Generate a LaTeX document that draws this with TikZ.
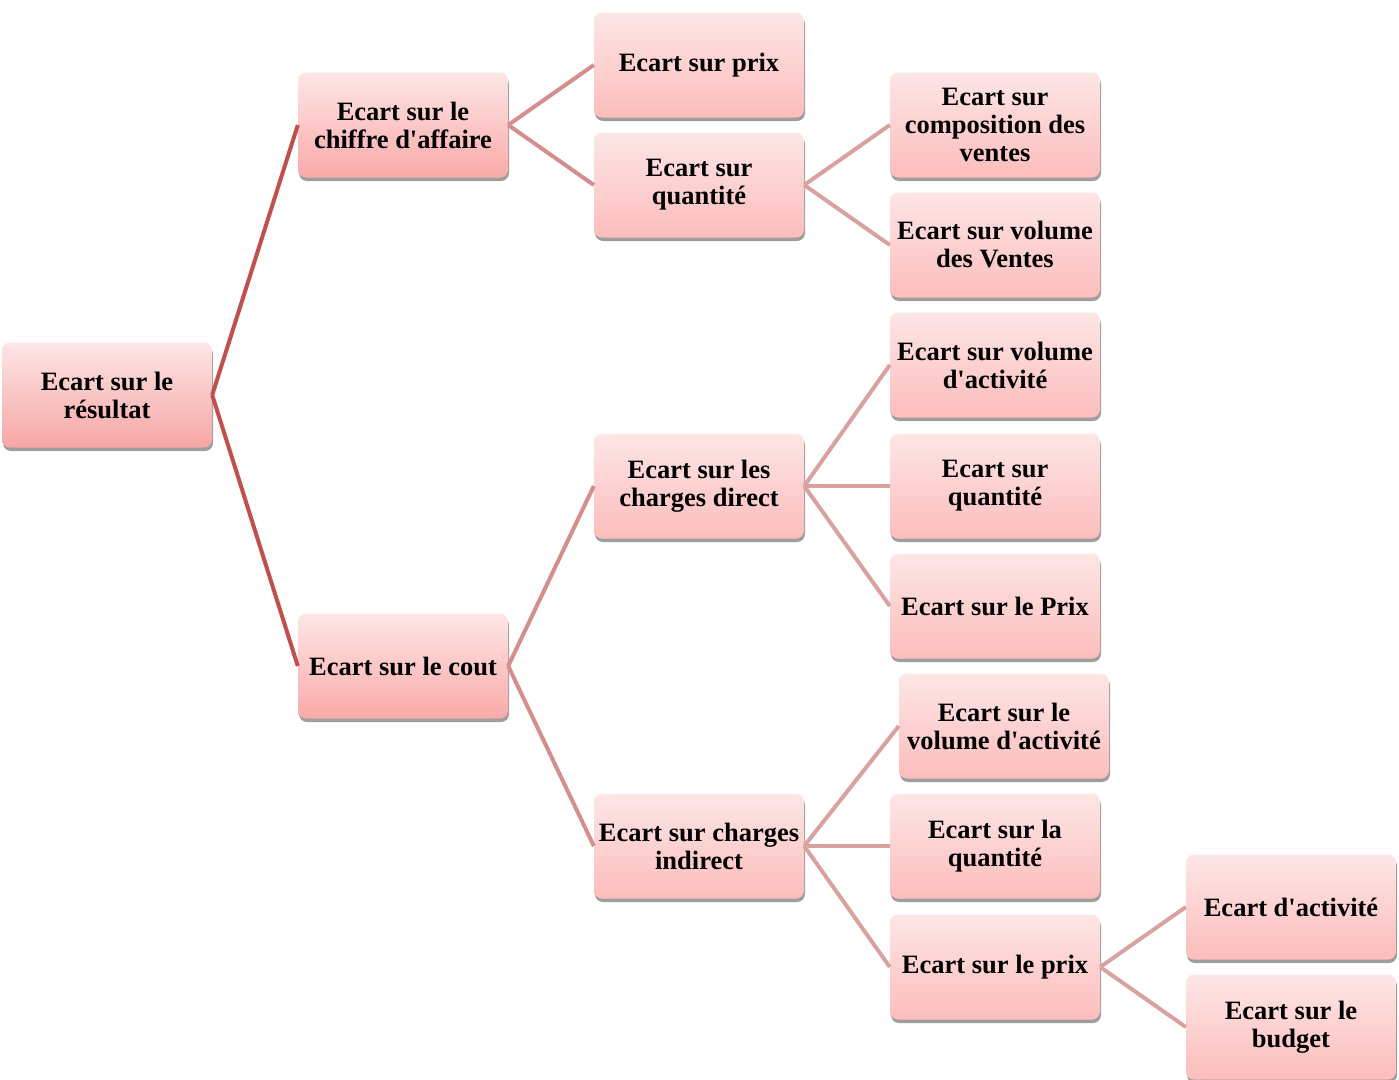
\documentclass[tikz,border=0pt]{standalone}
\usepackage{fontspec}
\setmainfont{Liberation Serif}
\usetikzlibrary{shadows}
\definecolor{linkA}{HTML}{C0504D}
\definecolor{linkB}{HTML}{D38E8D}
\definecolor{linkC}{HTML}{D9A2A1}
\definecolor{topc}{HTML}{FDE6E6}
\definecolor{botA}{HTML}{F6A6A4}
\definecolor{botB}{HTML}{FAAAA9}
\definecolor{botC}{HTML}{FDBDBC}
\newcommand{\ap}{\textquotesingle}
\tikzset{
  box/.style={rounded corners=8pt, minimum width=210pt, minimum height=105pt,
    inner sep=2pt, align=center, top color=topc, bottom color=botC, draw=none,
    font=\bfseries\fontsize{26.5}{28}\selectfont,
    drop shadow={shadow xshift=1pt, shadow yshift=-3.5pt, fill=black!38, opacity=1}},
  boxA/.style={box, bottom color=botA},
  boxB/.style={box, bottom color=botB},
  lkA/.style={draw=linkA, line width=4pt},
  lkB/.style={draw=linkB, line width=4pt},
  lkC/.style={draw=linkC, line width=4pt},
}
\begin{document}
\begin{tikzpicture}[x=1pt,y=-1pt]
\useasboundingbox (0,0) rectangle (1399,1079);
\node[boxA] (res) at (107,395) {Ecart sur le\\résultat};
\node[boxB] (ca) at (403,125) {Ecart sur le\\chiffre d\ap affaire};
\node[boxB] (cout) at (403,666) {Ecart sur le cout};
\node[box] (prix) at (699,65) {Ecart sur prix};
\node[box] (qte) at (699,185) {Ecart sur\\quantité};
\node[box] (cd) at (699,486) {Ecart sur les\\charges direct};
\node[box] (ci) at (699,846) {Ecart sur charges\\indirect};
\node[box] (comp) at (995,125) {Ecart sur\\composition des\\ventes};
\node[box] (vv) at (995,245) {Ecart sur volume\\des Ventes};
\node[box] (va) at (995,365) {Ecart sur volume\\d\ap activité};
\node[box] (q2) at (995,486) {Ecart sur\\quantité};
\node[box] (pp) at (995,606) {Ecart sur le Prix};
\node[box] (lva) at (1004,726) {Ecart sur le\\volume d\ap activité};
\node[box] (lq) at (995,846) {Ecart sur la\\quantité};
\node[box] (lp) at (995,967) {Ecart sur le prix};
\node[box] (act) at (1291,907) {Ecart d\ap activité};
\node[box] (bud) at (1291,1027) {Ecart sur le\\budget};
\draw[lkA] (res.east) -- (ca.west);
\draw[lkA] (res.east) -- (cout.west);
\draw[lkB] (ca.east) -- (prix.west);
\draw[lkB] (ca.east) -- (qte.west);
\draw[lkB] (cout.east) -- (cd.west);
\draw[lkB] (cout.east) -- (ci.west);
\draw[lkC] (qte.east) -- (comp.west);
\draw[lkC] (qte.east) -- (vv.west);
\draw[lkC] (cd.east) -- (va.west);
\draw[lkC] (cd.east) -- (q2.west);
\draw[lkC] (cd.east) -- (pp.west);
\draw[lkC] (ci.east) -- (lva.west);
\draw[lkC] (ci.east) -- (lq.west);
\draw[lkC] (ci.east) -- (lp.west);
\draw[lkC] (lp.east) -- (act.west);
\draw[lkC] (lp.east) -- (bud.west);
\end{tikzpicture}
\end{document}
